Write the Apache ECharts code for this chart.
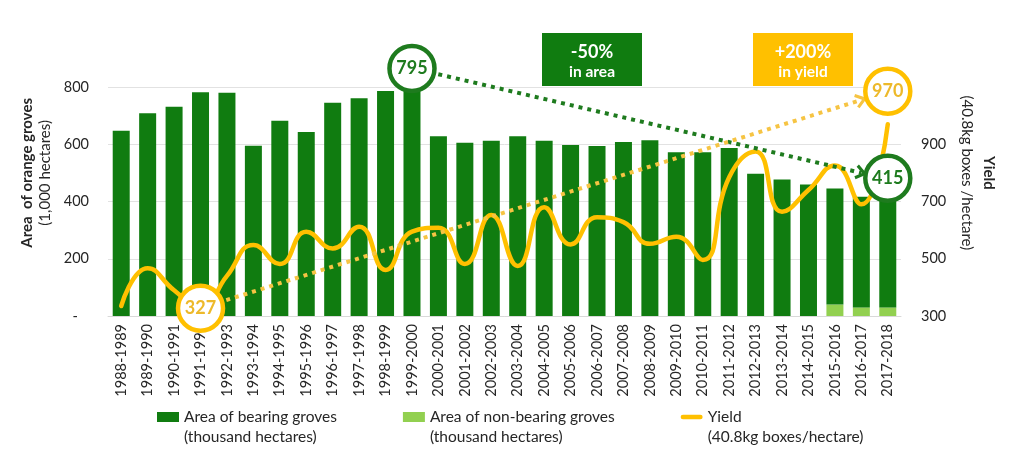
<!DOCTYPE html>
<html><head><meta charset="utf-8">
<script src="https://cdn.jsdelivr.net/npm/echarts@6/dist/echarts.min.js"></script>
<style>html,body{margin:0;padding:0;background:#fff}#c{width:1024px;height:461px}</style>
</head><body><div id="c"></div>
<script>
const categories = ['1988-1989','1989-1990','1990-1991','1991-1992','1992-1993','1993-1994','1994-1995','1995-1996','1996-1997','1997-1998','1998-1999','1999-2000','2000-2001','2001-2002','2002-2003','2003-2004','2004-2005','2005-2006','2006-2007','2007-2008','2008-2009','2009-2010','2010-2011','2011-2012','2012-2013','2013-2014','2014-2015','2015-2016','2016-2017','2017-2018'];
const bearingArea = [647,708,731,782,780,595,682,643,745,761,786,795,628,605,612,628,612,597,594,608,614,572,572,587,497,477,459,405,387,385];
const nonBearingArea = [0,0,0,0,0,0,0,0,0,0,0,0,0,0,0,0,0,0,0,0,0,0,0,0,0,0,0,40,30,30];
const yieldValues = [335,467,390,327,440,548,482,594,536,612,461,595,608,482,653,475,680,550,645,628,552,577,496,785,875,664,740,826,690,970];
const leftTicks = [0,200,400,600,800];
const rightTicks = [300,500,700,900];
const seriesNames = ['Area of bearing groves','Area of non-bearing groves','Yield'];
const seriesUnits = ['(thousand hectares)','(thousand hectares)','(40.8kg boxes/hectare)'];

const totalArea = bearingArea.map((v,i)=>v+nonBearingArea[i]);
const lStep = leftTicks[1]-leftTicks[0], rStep = rightTicks[1]-rightTicks[0];
const lMax = leftTicks[leftTicks.length-1], rMax = rightTicks[rightTicks.length-1];
const FONT = 'Lato';
const DARK = '#107C10', LIGHT = '#92D050', GOLD = '#FFC000';
const TXT = '#262626';
const GRIDC = '#e2e2e2';
const chevron = 'path://M5,0 L10,7.5 L8.3,8.8 L5,3.9 L1.7,8.8 L0,7.5 Z';
const lineIcon = 'path://M2.5,0 L21.5,0 A2.5,2.5 0 0 1 21.5,5 L2.5,5 A2.5,2.5 0 0 1 2.5,0 Z';

const chart = echarts.init(document.getElementById('c'), null, {renderer:'canvas'});
chart.setOption({
  animation:false,
  textStyle:{fontFamily:FONT},
  grid:{left:108,right:123,top:29.75,bottom:145},
  legend:{
    data:[{name:seriesNames[0],icon:'rect'},{name:seriesNames[1],icon:'rect'},{name:seriesNames[2],icon:lineIcon}],
    left:157, top:387, padding:0, itemGap:66, itemWidth:22, itemHeight:10, symbolKeepAspect:true,
    formatter:n=>' \n'+n+'\n'+seriesUnits[seriesNames.indexOf(n)],
    textStyle:{fontFamily:FONT,fontSize:15.5,lineHeight:20,color:TXT}
  },
  xAxis:{
    type:'category', data:categories,
    axisTick:{show:false},
    axisLine:{lineStyle:{color:'#d9d9d9'}},
    axisLabel:{rotate:90,margin:8,fontFamily:FONT,fontSize:14.5,color:TXT,interval:0}
  },
  yAxis:[{
    type:'value', min:leftTicks[0], max:lMax+lStep, interval:lStep,
    axisLine:{show:false}, axisTick:{show:false},
    splitLine:{lineStyle:{color:leftTicks.map(()=>GRIDC).concat(['rgba(0,0,0,0)'])}},
    axisLabel:{margin:19,fontFamily:FONT,fontSize:14.5,color:TXT,formatter:v=>v>lMax?'':(v===0?'-   ':String(v))},
    name:'{b|Area  of orange groves}\n{n|(1,000 hectares)}',
    nameLocation:'middle', nameRotate:90, nameGap:46,
    nameTextStyle:{rich:{b:{fontFamily:FONT,fontSize:15,fontWeight:'bold',color:TXT,lineHeight:18},n:{fontFamily:FONT,fontSize:15,color:TXT,lineHeight:18}}}
  },{
    type:'value', min:rightTicks[0], max:rMax+2*rStep, interval:rStep,
    axisLine:{show:false}, axisTick:{show:false}, splitLine:{show:false},
    axisLabel:{margin:20,fontFamily:FONT,fontSize:14.5,color:TXT,formatter:v=>v>rMax?'':String(v)},
    name:'{b|Yield}\n{n|(40.8kg boxes /hectare)}',
    nameLocation:'middle', nameRotate:-90, nameGap:55,
    nameTextStyle:{rich:{b:{fontFamily:FONT,fontSize:15,fontWeight:'bold',color:TXT,lineHeight:22},n:{fontFamily:FONT,fontSize:15,color:TXT,lineHeight:22}}}
  }],
  series:[{
    name:seriesNames[1], type:'bar', stack:'area', data:nonBearingArea, barWidth:17,
    itemStyle:{color:LIGHT}, silent:true
  },{
    name:seriesNames[0], type:'bar', stack:'area', data:bearingArea, barWidth:17,
    itemStyle:{color:DARK}, silent:true,
    markLine:{
      silent:true, z:5, symbol:['none',chevron], symbolSize:[15,12],
      label:{show:false},
      lineStyle:{color:'#1E7B1E',width:4,type:[4,5],opacity:1},
      data:[[{coord:[11,866]},{coord:[28.3,500]}]]
    },
    markPoint:{
      silent:true, z:7, symbol:'circle', symbolSize:45,
      itemStyle:{color:'#fff',borderColor:'#1E7B1E',borderWidth:4.5},
      label:{show:true,position:'inside',formatter:'{c}',color:'#1E7B1E',fontFamily:FONT,fontWeight:'bold',fontSize:18},
      data:[
        {coord:[categories[11],totalArea[11]],value:totalArea[11],symbolOffset:[0,-20]},
        {coord:[categories[29],totalArea[29]],value:totalArea[29],symbolOffset:[0,-19]}
      ]
    }
  },{
    name:seriesNames[2], type:'line', yAxisIndex:1, data:yieldValues, smooth:0.5,
    symbol:'none', z:3, silent:true,
    lineStyle:{color:GOLD,width:4.5,cap:'round'}, itemStyle:{color:GOLD},
    markLine:{
      silent:true, z:5, symbol:['none',chevron], symbolSize:[15,12],
      label:{show:false},
      lineStyle:{color:'#F6C443',width:4,type:[4,5],opacity:1,cap:'butt'},
      data:[[{coord:[categories[3],yieldValues[3]]},{coord:[categories[28],1055]}]]
    },
    markPoint:{
      silent:true, z:7, symbol:'circle', symbolSize:45,
      itemStyle:{color:'#fff',borderColor:GOLD,borderWidth:4.5},
      label:{show:true,position:'inside',formatter:'{c}',color:'#EDB92A',fontFamily:FONT,fontWeight:'bold',fontSize:18},
      data:[
        {coord:[categories[3],yieldValues[3]],value:yieldValues[3]},
        {coord:[categories[29],yieldValues[29]],value:yieldValues[29],symbolOffset:[0,-33]}
      ]
    }
  }],
  graphic:[{
    type:'group', left:542, top:33,
    children:[
      {type:'rect',shape:{x:0,y:0,width:100,height:53},style:{fill:DARK}},
      {type:'text',x:50,y:19,style:{text:'-50%',fill:'#fff',font:'bold 18px Lato',align:'center',verticalAlign:'middle'}},
      {type:'text',x:50,y:39,style:{text:'in area',fill:'#fff',font:'bold 15.5px Lato',align:'center',verticalAlign:'middle'}}
    ]
  },{
    type:'group', left:753, top:33,
    children:[
      {type:'rect',shape:{x:0,y:0,width:100,height:53},style:{fill:GOLD}},
      {type:'text',x:50,y:19,style:{text:'+200%',fill:'#fff',font:'bold 18px Lato',align:'center',verticalAlign:'middle'}},
      {type:'text',x:50,y:39,style:{text:'in yield',fill:'#fff',font:'bold 15.5px Lato',align:'center',verticalAlign:'middle'}}
    ]
  }]
});
</script></body></html>
